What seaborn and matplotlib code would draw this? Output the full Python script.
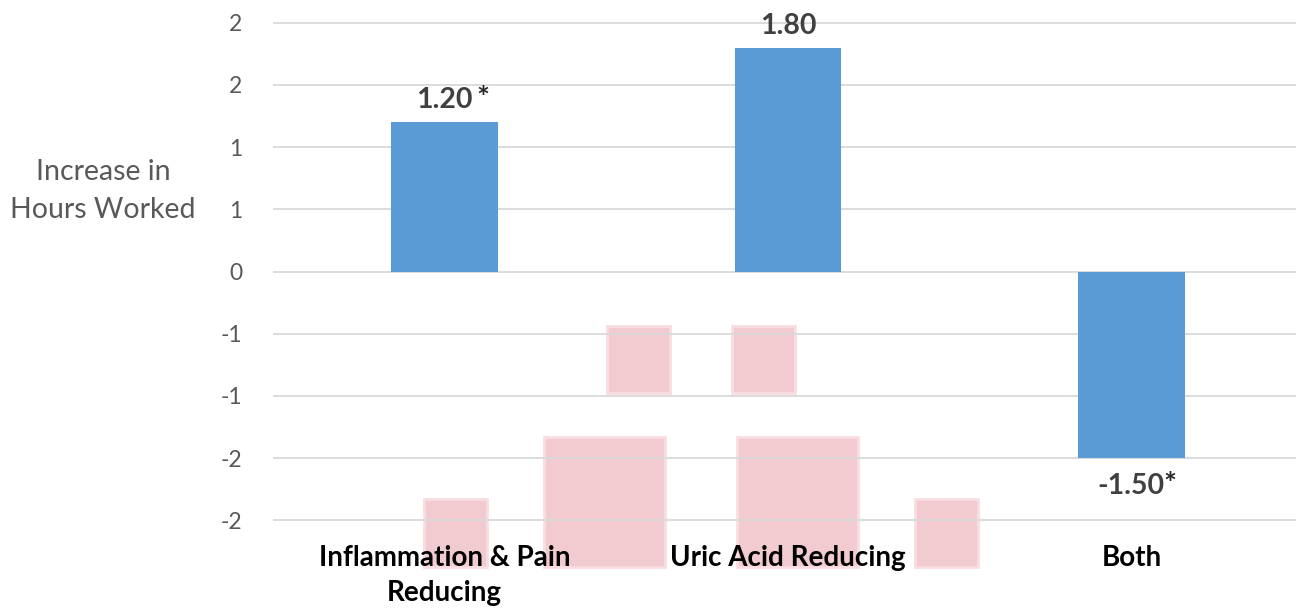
import seaborn as sns
import matplotlib.pyplot as plt
from matplotlib.patches import Rectangle

# chart data
categories = ["Inflammation & Pain\nReducing", "Uric Acid Reducing", "Both"]
values = [1.20, 1.80, -1.50]
stars = ["*", "", "*"]
y_ticks = [-2.0, -1.5, -1.0, -0.5, 0.0, 0.5, 1.0, 1.5, 2.0]
y_tick_labels = ["-2", "-2", "-1", "-1", "0", "1", "1", "2", "2"]

# faint pink blocks sitting behind the chart (x0, x1, y0, y1 in data units)
overlay = [
    (0.473, 0.656, -0.978, -0.441),
    (0.837, 1.020, -0.978, -0.441),
    (0.290, 0.642, -2.374, -1.331),
    (0.852, 1.204, -2.374, -1.331),
    (-0.060, 0.124, -2.374, -1.828),
    (1.370, 1.553, -2.374, -1.828),
]

sns.set_style("white")
plt.rcParams['font.family'] = ['Lato', 'DejaVu Sans']

fig = plt.figure(figsize=(12.96, 6.12), dpi=100)
ax = fig.add_axes([273 / 1296, 1 - 521 / 612, 1030 / 1296, 499 / 612])

sns.barplot(x=categories, y=values, color="#5B9BD5", saturation=1,
            width=0.311, linewidth=0, ax=ax)

ax.set_xlim(-0.5, 2.5)
ax.set_ylim(-2.006, 2.006)
ax.set_yticks(y_ticks)
ax.set_yticklabels(y_tick_labels)
ax.set_axisbelow(True)
ax.yaxis.grid(True, color="#d9d9d9", linewidth=1.3)
ax.xaxis.grid(False)
for s in ax.spines.values():
    s.set_visible(False)

ax.tick_params(axis="y", length=0, pad=22, labelsize=16.5, labelcolor="#595959")
ax.tick_params(axis="x", length=0, pad=17, labelsize=20, labelcolor="black")
for lab in ax.get_xticklabels():
    lab.set_fontweight("bold")
    lab.set_linespacing(1.45)

for x0, x1, y0, y1 in overlay:
    ax.add_patch(Rectangle((x0, y0), x1 - x0, y1 - y0, facecolor="#F2CBD1",
                           edgecolor="#F8DDE1", linewidth=2, zorder=0.3,
                           clip_on=False))

# value labels, asterisk marks significance
for i, (v, s) in enumerate(zip(values, stars)):
    dy = 10 if v >= 0 else -26
    ax.annotate(f"{v:.2f}", (i, v), xytext=(0, dy), textcoords="offset points",
                ha="center", va="baseline", fontsize=20.5, fontweight="bold",
                color="#404040")
    if s:
        ax.annotate(s, (i, v), xytext=(27.5, dy), textcoords="offset points",
                    ha="center", va="baseline", fontsize=22, fontweight="bold",
                    color="#262626")

fig.text(103 / 1296, 1 - 191 / 612, "Increase in\nHours Worked", ha="center",
         va="center", fontsize=20.5, color="#595959", linespacing=1.55)

plt.savefig("out.png", dpi=100)
